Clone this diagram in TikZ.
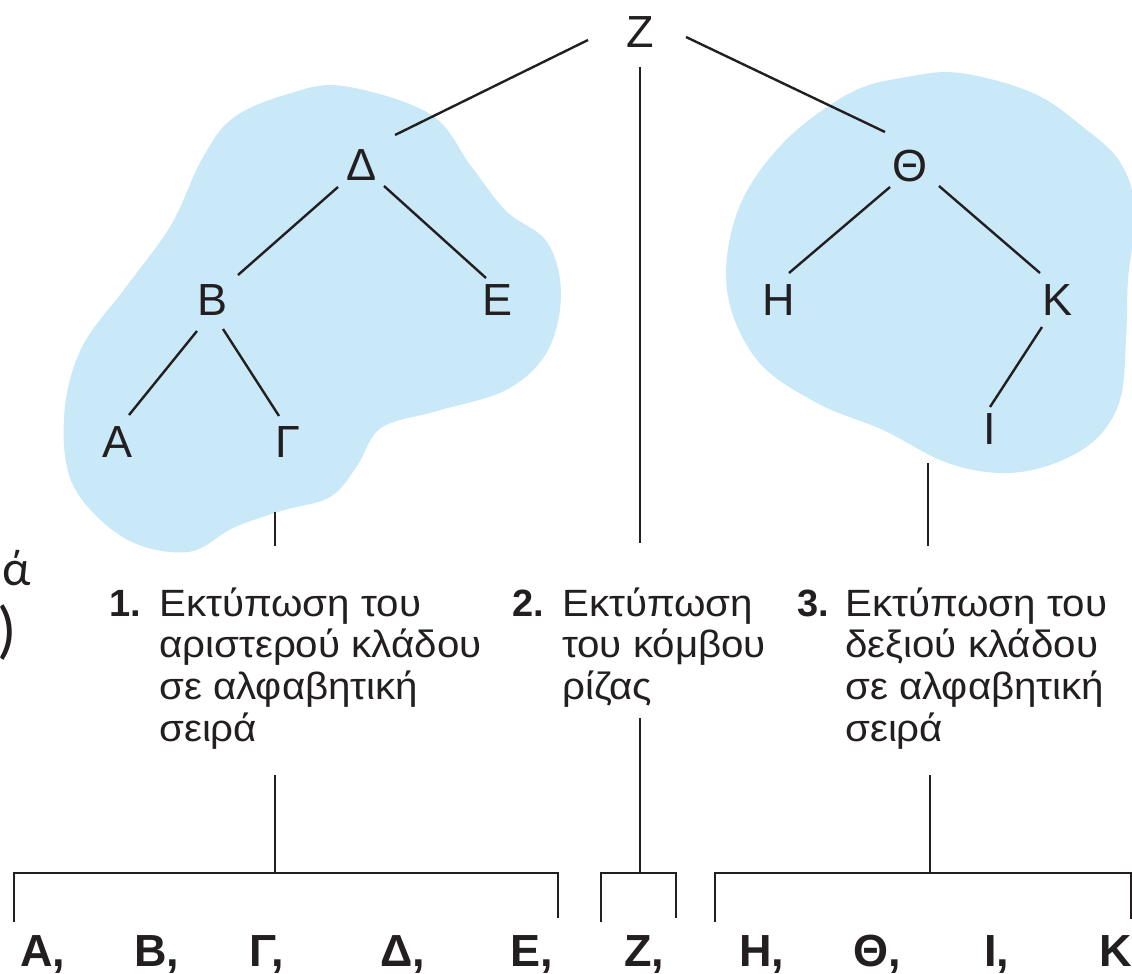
\documentclass[tikz,border=0pt]{standalone}
\usepackage{fontspec}
\setmainfont{Liberation Sans}
\newfontfamily\cutfont{Carlito}
\newfontfamily\lblfont[FakeStretch=1.06]{Liberation Sans}
\definecolor{ink}{HTML}{231F20}
\definecolor{blobc}{HTML}{C9E9F9}
\begin{document}
\begin{tikzpicture}[x=1pt,y=1pt,
  edge/.style={draw=ink, line width=2.4pt},
  letter/.style={font=\fontsize{45}{50}\selectfont, text=ink, inner sep=0},
  lbl/.style={font=\lblfont\fontsize{38}{41.7}\selectfont, text=ink, inner sep=0, anchor=base west},
  num/.style={font=\fontsize{38}{41.7}\selectfont\bfseries, text=ink, inner sep=0, anchor=base west},
  res/.style={font=\fontsize{45}{50}\selectfont\bfseries, text=ink, inner sep=0, anchor=base west},
  cutlbl/.style={text=ink, inner sep=0, anchor=base east},
  cloud/.style={fill=blobc, draw=none}]
\useasboundingbox (0,0) rectangle (1132,-974);

% blobs
\fill[cloud] plot[smooth cycle, tension=0.6] coordinates {
 (343,-86) (430,-114) (471,-166) (506,-211) (547,-242) (561,-294) (547,-352)
 (506,-390) (437,-411) (381,-428) (357,-466) (330,-497) (281,-511) (233,-528)
 (188,-552) (126,-539) (74,-487) (64,-418) (81,-349) (126,-287) (171,-225)
 (202,-159) (233,-118) (288,-94)};
\fill[cloud] plot[smooth cycle, tension=0.6] coordinates {
 (960,-73) (1033,-93) (1083,-127) (1120,-162) (1135,-210) (1128,-280) (1126,-340)
 (1120,-400) (1095,-440) (1050,-465) (1000,-473) (945,-462) (883,-430) (817,-403)
 (757,-360) (727,-290) (738,-210) (783,-143) (850,-93) (907,-77)};

% tree letters
\node[letter] (Z) at (640,-32) {Ζ};
\node[letter] (D) at (362,-165) {Δ};
\node[letter] (T) at (910,-166) {Θ};
\node[letter] (B) at (213,-300) {Β};
\node[letter] (E) at (498,-300) {Ε};
\node[letter] (A) at (118,-442) {Α};
\node[letter] (G) at (288,-442) {Γ};
\node[letter] (H) at (779,-300) {Η};
\node[letter] (K) at (1057,-300) {Κ};
\node[letter] (I) at (990,-429) {Ι};

% tree edges
\draw[edge] ([shift={(-52,-8)}]Z.center) -- ([shift={(33,30)}]D.center);
\draw[edge] ([shift={(46,-5)}]Z.center) -- ([shift={(-25,34)}]T.center);
\coordinate (zb) at (640,-543);
\draw[edge] ([shift={(0,-35)}]Z.center) -- (zb);
\draw[edge] ([shift={(-24,-22)}]D.center) -- ([shift={(25,25)}]B.center);
\draw[edge] ([shift={(22,-21)}]D.center) -- ([shift={(-12,22)}]E.center);
\draw[edge] ([shift={(-16,-31)}]B.center) -- ([shift={(11,27)}]A.center);
\draw[edge] ([shift={(10,-29)}]B.center) -- ([shift={(-9,26)}]G.center);
\draw[edge] ([shift={(-20,-21)}]T.center) -- ([shift={(10,27)}]H.center);
\draw[edge] ([shift={(29,-20)}]T.center) -- ([shift={(-17,27)}]K.center);
\draw[edge] ([shift={(-15,-27)}]K.center) -- ([shift={(0,22)}]I.center);
\coordinate (ga) at (275,-512);
\coordinate (gb) at (275,-546);
\draw[edge] (ga) -- (gb);
\coordinate (ia) at (928,-463);
\coordinate (ib) at (928,-546);
\draw[edge] (ia) -- (ib);

% cut-off text at left edge
\node[cutlbl, font=\cutfont\fontsize{50}{54}\selectfont] (cut1) at (31,-585) {ά};
\node[cutlbl, font=\cutfont\fontsize{64}{70}\selectfont] (cut2) at (17,-651) {)};

% explanation texts
\node[num] (n1) at (109,-616) {1.};
\node[lbl] (t1) at (159,-616) {\vtop{\hbox{Εκτύπωση του}\hbox{αριστερού κλάδου}\hbox{σε αλφαβητική}\hbox{σειρά}}};
\node[num] (n2) at (512,-616) {2.};
\node[lbl] (t2) at (562,-616) {\vtop{\hbox{Εκτύπωση}\hbox{του κόμβου}\hbox{ρίζας}}};
\node[num] (n3) at (797,-616) {3.};
\node[lbl] (t3) at (845,-616) {\vtop{\hbox{Εκτύπωση του}\hbox{δεξιού κλάδου}\hbox{σε αλφαβητική}\hbox{σειρά}}};

% brackets
\coordinate (L1) at (14,-922);
\coordinate (L2) at (558,-918);
\coordinate (Ls) at (275,-873);
\coordinate (Lt) at (275,-775);
\draw[edge] (L1) -- (L1 |- Ls) -- (L2 |- Ls) -- (L2);
\draw[edge] (Ls) -- (Lt);
\coordinate (M1) at (601,-922);
\coordinate (M2) at (676,-918);
\coordinate (Ms) at (640,-873);
\coordinate (Mt) at (640,-718);
\draw[edge] (M1) -- (M1 |- Ms) -- (M2 |- Ms) -- (M2);
\draw[edge] (Ms) -- (Mt);
\coordinate (R1) at (715,-922);
\coordinate (R2) at (1131,-919);
\coordinate (Rs) at (930,-873);
\coordinate (Rt) at (930,-775);
\draw[edge] (R1) -- (R1 |- Rs) -- (R2 |- Rs) -- (R2);
\draw[edge] (Rs) -- (Rt);

% result sequence
\node[res] (r1) at (20,-966) {Α,};
\node[res] (r2) at (134,-966) {Β,};
\node[res] (r3) at (249,-966) {Γ,};
\node[res] (r4) at (380,-966) {Δ,};
\node[res] (r5) at (510,-966) {Ε,};
\node[res] (r6) at (624,-966) {Ζ,};
\node[res] (r7) at (739,-966) {Η,};
\node[res] (r8) at (853,-966) {Θ,};
\node[res] (r9) at (984,-966) {Ι,};
\node[res] (r10) at (1099,-966) {Κ,};
\end{tikzpicture}
\end{document}
